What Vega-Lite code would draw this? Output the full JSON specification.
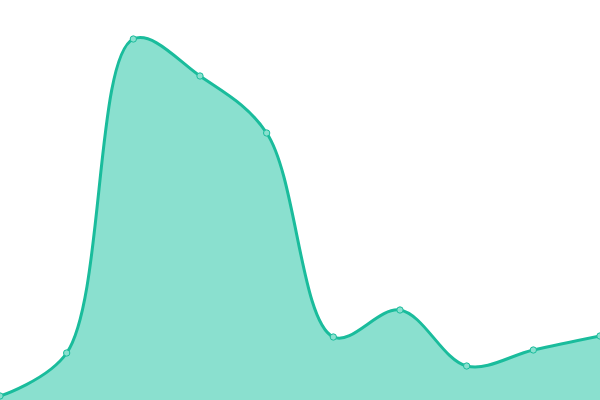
{
  "$schema": "https://vega.github.io/schema/vega-lite/v6.json",
  "width": 600,
  "height": 400,
  "padding": 0,
  "autosize": {"type": "fit", "contains": "padding"},
  "data": {
    "values": [
      {"i": 0, "v": 4},
      {"i": 1, "v": 47},
      {"i": 2, "v": 361},
      {"i": 3, "v": 324},
      {"i": 4, "v": 267},
      {"i": 5, "v": 63},
      {"i": 6, "v": 90},
      {"i": 7, "v": 34},
      {"i": 8, "v": 50},
      {"i": 9, "v": 64}
    ]
  },
  "encoding": {
    "x": {"field": "i", "type": "quantitative", "scale": {"domain": [0, 9], "nice": false, "zero": false}, "axis": null},
    "y": {"field": "v", "type": "quantitative", "scale": {"domain": [0, 400], "nice": false}, "axis": null}
  },
  "layer": [
    {
      "mark": {"type": "area", "interpolate": "catmull-rom", "clip": true, "color": "#8ae0cf", "opacity": 1,
        "line": {"color": "#1abc9c", "strokeWidth": 3, "clip": true}}
    },
    {
      "mark": {"type": "point", "clip": true, "filled": true, "size": 40, "fill": "#8ae0cf", "stroke": "#1abc9c", "strokeWidth": 1, "opacity": 1}
    }
  ],
  "config": {"view": {"stroke": null}}
}
